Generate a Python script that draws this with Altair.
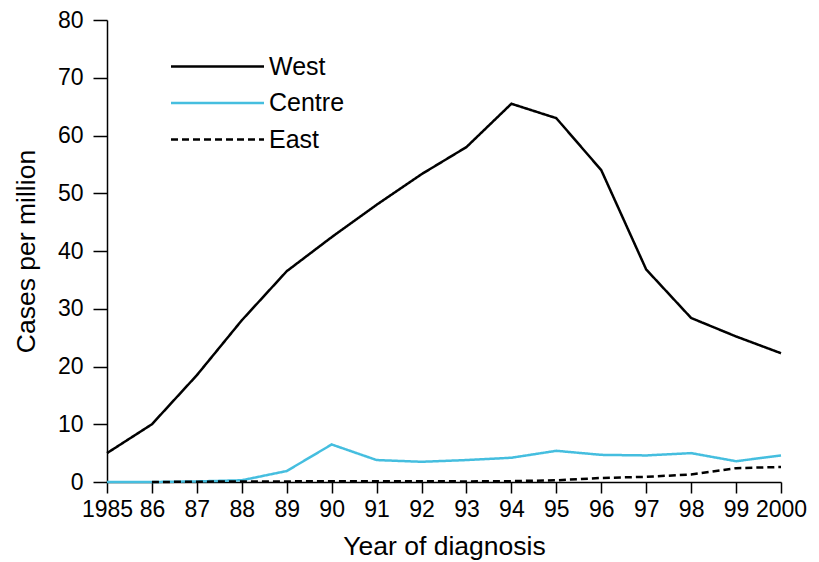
import altair as alt
import pandas as pd

years = list(range(1985, 2001))
west = [5.0, 10.0, 18.5, 28.0, 36.5, 42.4, 48.0, 53.3, 58.0, 65.5, 63.0, 54.0, 36.8, 28.4, 25.2, 22.3]
centre = [0.0, 0.0, 0.1, 0.3, 1.9, 6.5, 3.8, 3.5, 3.8, 4.2, 5.4, 4.7, 4.6, 5.0, 3.6, 4.6]
east_years = list(range(1986, 2001))
east = [0.0, 0.05, 0.1, 0.1, 0.15, 0.15, 0.15, 0.1, 0.15, 0.3, 0.7, 0.9, 1.3, 2.4, 2.6]

regions = ["West", "Centre", "East"]
colors = ["#000000", "#45BEDF", "#000000"]
dashes = [[1, 0], [1, 0], [7, 4]]
y_ticks = [0, 10, 20, 30, 40, 50, 60, 70, 80]

rows = []
for yr, v in zip(years, west):
    rows.append({"year": yr, "value": v, "region": "West"})
for yr, v in zip(years, centre):
    rows.append({"year": yr, "value": v, "region": "Centre"})
for yr, v in zip(east_years, east):
    rows.append({"year": yr, "value": v, "region": "East"})
df = pd.DataFrame(rows)

FONT = "Liberation Sans"

chart = alt.Chart(df).mark_line(strokeWidth=2.5).encode(
    x=alt.X(
        "year:Q",
        scale=alt.Scale(domain=[1985, 2000], nice=False, zero=False),
        axis=alt.Axis(
            values=years,
            format="d",
            labelExpr="datum.value == 1985 || datum.value == 2000 ? datum.label : substring(datum.label, 2)",
            title="Year of diagnosis",
            grid=False,
            tickSize=11,
            labelPadding=5,
            titlePadding=12,
            labelFlush=False,
            labelOverlap=False,
        ),
    ),
    y=alt.Y(
        "value:Q",
        scale=alt.Scale(domain=[0, 80], nice=False),
        axis=alt.Axis(
            values=y_ticks,
            title="Cases per million",
            grid=False,
            tickSize=14,
            labelPadding=10,
            titlePadding=17,
        ),
    ),
    color=alt.Color(
        "region:N",
        scale=alt.Scale(domain=regions, range=colors),
        legend=alt.Legend(title=None),
    ),
    strokeDash=alt.StrokeDash(
        "region:N",
        scale=alt.Scale(domain=regions, range=dashes),
        legend=alt.Legend(title=None),
    ),
).properties(
    width=674,
    height=462,
    padding={"left": 99, "top": 12, "right": 28, "bottom": 90},
    autosize=alt.AutoSizeParams(type="none"),
).configure_view(
    stroke=None
).configure_axis(
    domainColor="black",
    domainWidth=1.5,
    tickColor="black",
    tickWidth=1.5,
    labelColor="black",
    labelFont=FONT,
    labelFontSize=23,
    titleFont=FONT,
    titleFontSize=26.5,
    titleFontWeight="normal",
    titleColor="black",
).configure_legend(
    orient="none",
    legendX=98,
    legendY=34,
    padding=0,
    symbolType="M-9.3,0H9.3",
    symbolSize=100,
    symbolStrokeWidth=2.5,
    labelOffset=39,
    labelFont=FONT,
    labelFontSize=25,
    labelColor="black",
    rowPadding=10.5,
)

chart.save("out.html", embed_options={"renderer": "svg", "actions": False})
